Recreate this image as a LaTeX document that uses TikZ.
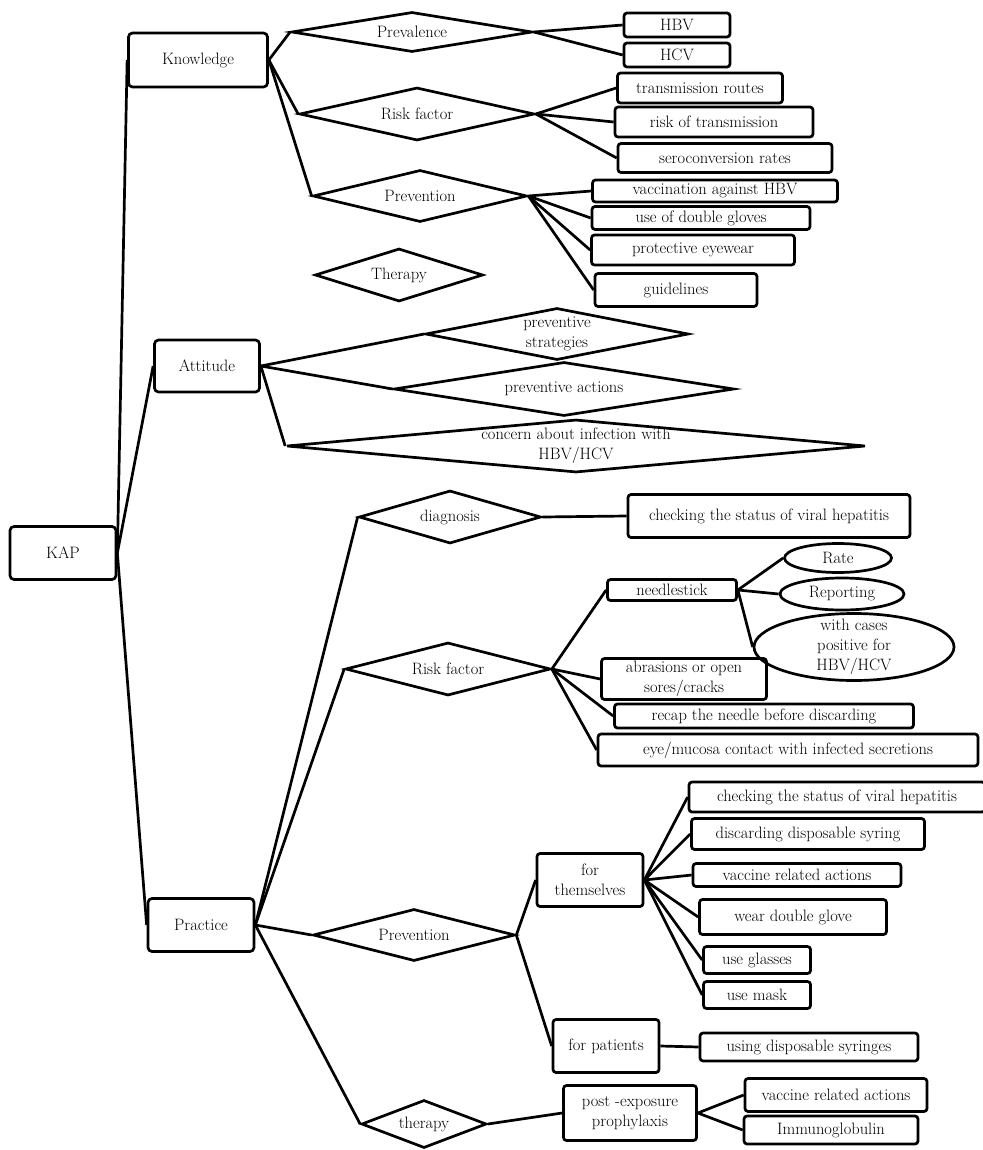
\documentclass[tikz,border=0pt]{standalone}
\usetikzlibrary{shapes.geometric}
\tikzset{
  cat/.style={rectangle, rounded corners=4pt, draw, line width=2.7pt, align=center,
              inner sep=0pt, minimum width=106pt, minimum height=53pt},
  item/.style={rectangle, rounded corners=3pt, draw, line width=2.7pt, align=center, inner sep=0pt},
  dia/.style={diamond, draw, line width=2.7pt, align=center, inner sep=0pt, aspect=7},
  oval/.style={ellipse, draw, line width=2.7pt, align=center, inner sep=0pt},
  ln/.style={draw, line width=2.7pt},
}

\begin{document}
\begin{tikzpicture}[x=1pt, y=-1pt, font=\fontsize{16.5}{20}\selectfont]
\useasboundingbox (0,0) rectangle (982,1150);

\node[cat] (kap) at (63,553) {KAP};
\node[cat, minimum width=139pt, minimum height=54pt] (know) at (198,60) {Knowledge};
\node[cat, minimum width=105pt, minimum height=52pt] (att) at (207,366) {Attitude};
\node[cat] (prac) at (201,925) {Practice};

% knowledge
\node[dia, minimum width=241pt, minimum height=40pt] (prev) at (412,32) {Prevalence};
\node[dia, minimum width=235pt, minimum height=53pt] (krisk) at (417,114) {Risk factor};
\node[dia, aspect=6, minimum width=214pt, minimum height=52pt] (kprev) at (420,196) {Prevention};
\node[dia, aspect=6, minimum width=168pt, minimum height=53pt] (kther) at (399,275) {Therapy};

\node[item, minimum width=106pt, minimum height=24pt] (hbv) at (677,25) {HBV};
\node[item, minimum width=106pt, minimum height=24pt] (hcv) at (677,55) {HCV};
\node[item, minimum width=165pt, minimum height=30pt] (routes) at (700,88) {transmission routes};
\node[item, minimum width=198pt, minimum height=30pt] (riskt) at (714,122) {risk of transmission};
\node[item, minimum width=214pt, minimum height=29pt] (sero) at (725,158) {seroconversion rates};
\node[item, minimum width=245pt, minimum height=22pt] (vacc) at (715,191) {vaccination against HBV};
\node[item, minimum width=218pt, minimum height=23pt] (gloves) at (701,218) {use of double gloves};
\node[item, minimum width=203pt, minimum height=30pt] (eyewear) at (693,250) {protective eyewear};
\node[item, minimum width=162pt, minimum height=33pt] (guide) at (676,290) {guidelines};

% attitude
\node[dia, aspect=4.5, inner ysep=-3pt, minimum width=263pt, minimum height=52pt] (strat) at (557,334) {preventive\\strategies};
\node[dia, aspect=9, minimum width=340pt, minimum height=54pt] (actions) at (564,389) {preventive actions};
\node[dia, aspect=11, inner xsep=-15pt, minimum width=579pt, minimum height=53pt] (concern) at (576,446) {concern about infection with\\HBV/HCV};

% practice
\node[dia, minimum width=182pt, minimum height=53pt] (diag) at (450,517) {diagnosis};
\node[dia, minimum width=205pt, minimum height=53pt] (prisk) at (448,669) {Risk factor};
\node[dia, minimum width=202pt, minimum height=52pt] (pprev) at (414,935) {Prevention};
\node[dia, aspect=4, minimum width=125pt, minimum height=48pt] (pther) at (424,1124) {therapy};

\node[item, minimum width=282pt, minimum height=43pt] (check1) at (769,516) {checking the status of viral hepatitis};

\node[item, minimum width=129pt, minimum height=21pt] (needle) at (672,590) {needlestick};
\node[oval, minimum width=107pt, minimum height=29pt] (rate) at (838,558) {Rate};
\node[oval, minimum width=124pt, minimum height=32pt] (report) at (842,594) {Reporting};
\node[oval, inner ysep=-8pt, minimum width=200pt, minimum height=67pt] (cases) at (854,647) {with cases\\positive for\\HBV/HCV};
\node[item, minimum width=165pt, minimum height=41pt] (abras) at (684,679) {abrasions or open\\sores/cracks};
\node[item, minimum width=299pt, minimum height=24pt] (recap) at (764,716) {recap the needle before discarding};
\node[item, minimum width=380pt, minimum height=32pt] (eye) at (788,750) {eye/mucosa contact with infected secretions};

\node[item, minimum width=106pt, minimum height=53pt] (self) at (590,880) {for\\themselves};
\node[item, minimum width=106pt, minimum height=53pt] (pat) at (606,1046) {for patients};
\node[item, minimum width=296pt, minimum height=30pt] (check2) at (837,797) {checking the status of viral hepatitis};
\node[item, minimum width=233pt, minimum height=31pt] (discard) at (808,834) {discarding disposable syring};
\node[item, minimum width=208pt, minimum height=23pt] (vrel1) at (797,875) {vaccine related actions};
\node[item, minimum width=187pt, minimum height=35pt] (glove) at (793,917) {wear double glove};
\node[item, minimum width=107pt, minimum height=27pt] (glasses) at (757,960) {use glasses};
\node[item, minimum width=107pt, minimum height=27pt] (mask) at (757,995) {use mask};
\node[item, minimum width=218pt, minimum height=28pt] (syr) at (809,1047) {using disposable syringes};

\node[item, minimum width=133pt, minimum height=55pt] (pep) at (630,1113) {post -exposure\\prophylaxis};
\node[item, minimum width=182pt, minimum height=33pt] (vrel2) at (836,1095) {vaccine related actions};
\node[item, minimum width=174pt, minimum height=28pt] (immuno) at (831,1130) {Immunoglobulin};

\draw[ln] (kap.east) -- (know.west);
\draw[ln] (kap.east) -- (att.west);
\draw[ln] (kap.east) -- (prac.west);

\draw[ln] (know.east) -- (prev.west);
\draw[ln] (know.east) -- (krisk.west);
\draw[ln] (know.east) -- (kprev.west);
\draw[ln] (prev.east) -- (hbv.west);
\draw[ln] (prev.east) -- (hcv.west);
\draw[ln] (krisk.east) -- (routes.west);
\draw[ln] (krisk.east) -- (riskt.west);
\draw[ln] (krisk.east) -- (sero.west);
\draw[ln] (kprev.east) -- (vacc.west);
\draw[ln] (kprev.east) -- (gloves.west);
\draw[ln] (kprev.east) -- (eyewear.west);
\draw[ln] (kprev.east) -- (guide.west);

\draw[ln] (att.east) -- (strat.west);
\draw[ln] (att.east) -- (actions.west);
\draw[ln] (att.east) -- (concern.west);

\draw[ln] (prac.east) -- (diag.west);
\draw[ln] (prac.east) -- (prisk.west);
\draw[ln] (prac.east) -- (pprev.west);
\draw[ln] (prac.east) -- (pther.west);
\draw[ln] (diag.east) -- (check1.west);
\draw[ln] (prisk.east) -- (needle.west);
\draw[ln] (prisk.east) -- (abras.west);
\draw[ln] (prisk.east) -- (recap.west);
\draw[ln] (prisk.east) -- (eye.west);
\draw[ln] (needle.east) -- (rate.west);
\draw[ln] (needle.east) -- (report.west);
\draw[ln] (needle.east) -- (cases.west);
\draw[ln] (pprev.east) -- (self.west);
\draw[ln] (pprev.east) -- (pat.west);
\draw[ln] (self.east) -- (check2.west);
\draw[ln] (self.east) -- (discard.west);
\draw[ln] (self.east) -- (vrel1.west);
\draw[ln] (self.east) -- (glove.west);
\draw[ln] (self.east) -- (glasses.west);
\draw[ln] (self.east) -- (mask.west);
\draw[ln] (pat.east) -- (syr.west);
\draw[ln] (pther.east) -- (pep.west);
\draw[ln] (pep.east) -- (vrel2.west);
\draw[ln] (pep.east) -- (immuno.west);
\end{tikzpicture}
\end{document}
